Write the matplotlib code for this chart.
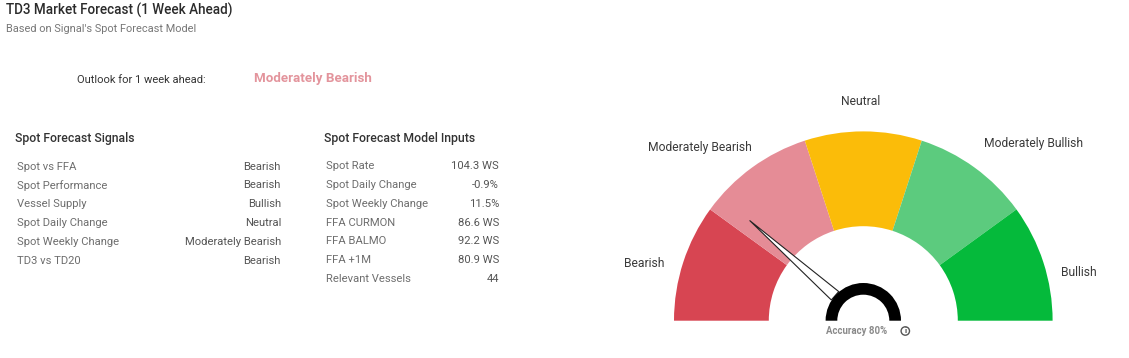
import numpy as np
import matplotlib
matplotlib.use("Agg")
import matplotlib.pyplot as plt
from matplotlib.patches import Wedge, Polygon, Circle

title = "TD3 Market Forecast (1 Week Ahead)"
subtitle = "Based on Signal's Spot Forecast Model"
outlook_label = "Outlook for 1 week ahead:"
outlook_value = "Moderately Bearish"

signal_names = ["Spot vs FFA", "Spot Performance", "Vessel Supply",
                "Spot Daily Change", "Spot Weekly Change", "TD3 vs TD20"]
signal_values = ["Bearish", "Bearish", "Bullish", "Neutral",
                 "Moderately Bearish", "Bearish"]
input_names = ["Spot Rate", "Spot Daily Change", "Spot Weekly Change",
               "FFA CURMON", "FFA BALMO", "FFA +1M", "Relevant Vessels"]
input_values = ["104.3 WS", "-0.9%", "11.5%", "86.6 WS", "92.2 WS",
                "80.9 WS", "44"]

gauge_labels = ["Bearish", "Moderately Bearish", "Neutral",
                "Moderately Bullish", "Bullish"]
gauge_sizes = [20, 20, 20, 20, 20]
gauge_colors = ["#D74552", "#E58C96", "#FBBC09", "#5CCB7E", "#05BA3B"]
needle_value = 23
accuracy = 80

plt.rcParams["font.family"] = ["Roboto", "DejaVu Sans"]
W, H = 1129, 358
fig = plt.figure(figsize=(W / 100, H / 100), dpi=100, facecolor="white")
ax = fig.add_axes([0, 0, 1, 1])
ax.set_xlim(0, W)
ax.set_ylim(0, H)
ax.axis("off")


def T(x, y, s, size=8.0, color="#555555", ha="left", weight="normal", **kw):
    return ax.text(x, H - y, s, fontsize=size, color=color, ha=ha, va="center",
                   fontweight=weight, **kw)


T(6.5, 10, title, 9.75, "#2b2b2b", weight="medium")
T(6.5, 29, subtitle, 7.9, "#777777")
T(77, 80, outlook_label, 8.0, "#333333")
T(254, 78.5, outlook_value, 9.6, "#E3949C", weight="bold")

T(15, 138.5, "Spot Forecast Signals", 8.8, "#333333", weight="medium")
for i, (n, v) in enumerate(zip(signal_names, signal_values)):
    y = 166.5 + i * 18.95
    T(17, y, n, 8.1, "#6e6e6e")
    T(281, y, v, 8.1, "#555555", ha="right")

T(323.5, 138.5, "Spot Forecast Model Inputs", 8.8, "#333333", weight="medium")
for i, (n, v) in enumerate(zip(input_names, input_values)):
    y = 166 + i * 18.85
    T(326, y, n, 8.1, "#6e6e6e")
    T(499, y, v, 8.1, "#555555", ha="right")

# gauge
cx, cy = 863.3, H - 320.7
r_out, r_in = 189.3, 94.5
edges = np.cumsum([0] + gauge_sizes) / sum(gauge_sizes) * 180.0
for k, c in enumerate(gauge_colors):
    ax.add_patch(Wedge((cx, cy), r_out, 180 - edges[k + 1], 180 - edges[k],
                       width=r_out - r_in, facecolor=c, edgecolor="none"))

ax.add_patch(Wedge((cx, cy), 37.7, 0, 180, width=11.7, facecolor="black",
                   edgecolor="none", zorder=3))

a = np.deg2rad(180 - needle_value / 100 * 180.0)
tip = (cx + 151.6 * np.cos(a), cy + 151.6 * np.sin(a))
b = (cx + 37.7 * np.cos(a), cy + 37.7 * np.sin(a))
px, py = -np.sin(a) * 5.6, np.cos(a) * 5.6
ax.add_patch(Polygon([tip, (b[0] + px, b[1] + py), (b[0] - px, b[1] - py)],
                     closed=True, facecolor="white", edgecolor="#222222",
                     linewidth=0.8, zorder=2))

label_pos = [(644, 263.5), (700, 147.5), (860.5, 101.5), (1033.5, 143), (1079, 273)]
for lab, (x, y) in zip(gauge_labels, label_pos):
    T(x, y, lab, 8.7, "#3a3a3a", ha="center")

T(857, 330.5, f"Accuracy {accuracy}%", 6.9, "#8a8a8a", ha="center", weight="bold")
ax.add_patch(Circle((905.3, H - 331), 4.2, facecolor="white", edgecolor="#555555", linewidth=1.0))
T(905.3, 330.6, "i", 5.5, "#444444", ha="center", weight="bold")

fig.savefig("out.png", dpi=100, facecolor="white")
